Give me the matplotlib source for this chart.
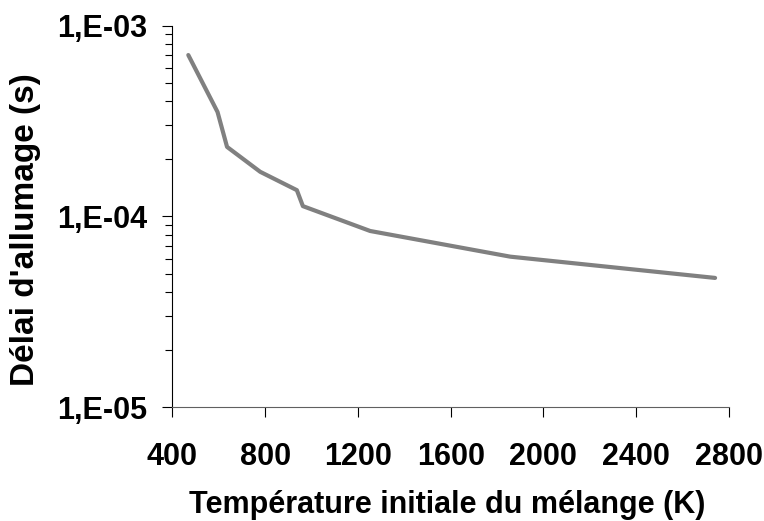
import matplotlib
matplotlib.use("Agg")
import matplotlib.pyplot as plt
from matplotlib.ticker import LogLocator, FixedLocator, NullFormatter

# initial temperature (K) and ignition delay (s)
temp = [469, 595, 636, 779, 937, 963, 1253, 1857, 2740]
delay = [7.0e-4, 3.52e-4, 2.31e-4, 1.71e-4, 1.37e-4, 1.13e-4, 8.37e-5, 6.14e-5, 4.75e-5]

x_ticks = [400, 800, 1200, 1600, 2000, 2400, 2800]
y_ticks = [1e-5, 1e-4, 1e-3]
y_labels = ["1,E-05", "1,E-04", "1,E-03"]

plt.rcParams['font.family'] = ['Liberation Sans', 'DejaVu Sans']
plt.rcParams['font.weight'] = 'bold'

fig = plt.figure(figsize=(7.64, 5.21), dpi=100)
# plot area: x 172..729 px, y 25..407 px
ax = fig.add_axes([172.3 / 764, 1 - 407 / 521, (729 - 172.3) / 764, (407 - 25.5) / 521])

ax.plot(temp, delay, color='#808080', lw=3.0, solid_capstyle='round')

ax.set_yscale('log')
ax.set_xlim(400, 2800)
ax.set_ylim(1e-5, 1e-3)

ax.xaxis.set_major_locator(FixedLocator(x_ticks))
ax.set_xticklabels([str(v) for v in x_ticks])
ax.yaxis.set_major_locator(FixedLocator(y_ticks))
ax.set_yticklabels(y_labels)
ax.yaxis.set_minor_locator(LogLocator(base=10, subs=range(2, 10)))
ax.yaxis.set_minor_formatter(NullFormatter())

for s in ['top', 'right']:
    ax.spines[s].set_visible(False)
ax.spines['left'].set_color('black')
ax.spines['bottom'].set_color('#606060')

ax.tick_params(axis='both', which='major', direction='out', length=7.2, width=0.8,
               labelsize=22, color='black')
ax.tick_params(axis='y', which='minor', direction='out', length=5, width=0.8, color='black')
ax.tick_params(axis='y', which='major', pad=11)
ax.tick_params(axis='x', which='major', pad=18)

fig.text(447 / 764, 8 / 521, "Température initiale du mélange (K)", fontsize=22,
         fontweight='bold', ha='center', va='baseline')
fig.text(26 / 764, 1 - 230 / 521, "Délai d'allumage (s)", fontsize=24,
         fontweight='bold', ha='center', va='center', rotation=90)

fig.savefig("out.png", dpi=100)
